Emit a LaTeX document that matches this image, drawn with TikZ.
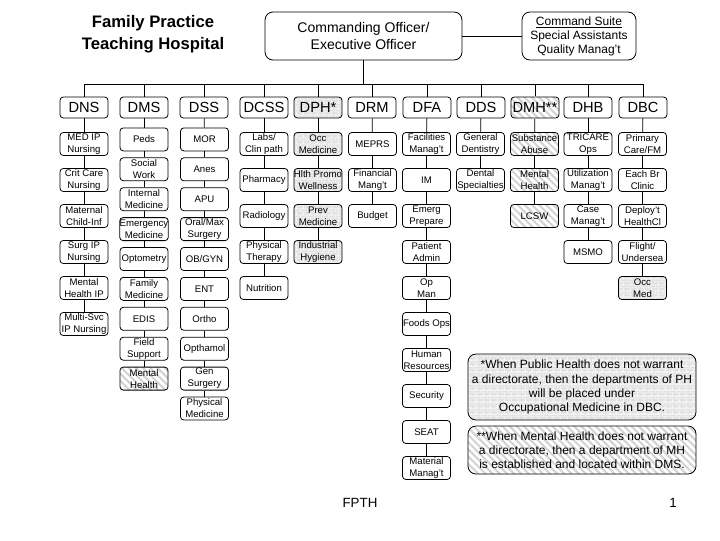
\documentclass[tikz,border=0pt]{standalone}
\usepackage{fontspec}
\setmainfont{Liberation Sans}
\usetikzlibrary{patterns,patterns.meta}
\definecolor{FpthBrick}{HTML}{E2E2E2}
\definecolor{FpthStripe}{HTML}{D2D2D2}
\tikzdeclarepattern{name=fpthbricks,type=uncolored,
  bounding box={(0pt,0pt) and (5pt,4.4pt)},tile size={(5pt,4.4pt)},
  code={\draw[line width=0.6pt] (0pt,0pt) -- (5pt,0pt) (0pt,2.2pt) -- (5pt,2.2pt)
    (0pt,0pt) -- (0pt,2.2pt) (2.5pt,2.2pt) -- (2.5pt,4.4pt);}}

\begin{document}
\begin{tikzpicture}[x=0.75pt,y=-0.75pt,
    unitbox/.style={draw,line width=0.6pt,rounded corners=2.5pt,fill=white,
      inner sep=0pt,minimum width=36pt,minimum height=17.25pt,align=center,
      font=\fontsize{7.2}{9}\selectfont},
    dirbox/.style={unitbox,minimum height=15.75pt,font=\fontsize{11}{12}\selectfont},
    bigbox/.style={unitbox,rounded corners=6pt},
    brickfill/.style={preaction={fill=FpthBrick},pattern=fpthbricks,pattern color=white},
    stripefill/.style={preaction={fill=white},
      pattern={Lines[angle=-45,distance=3.8pt,line width=1.5pt]},pattern color=FpthStripe},
    link/.style={line width=0.6pt}]

  \useasboundingbox (0,0) rectangle (720,540);

  \node[align=center,font=\bfseries\fontsize{12.5}{16.5}\selectfont]
    (title) at (153,34) {Family Practice\\Teaching Hospital};

  \node[bigbox,minimum width=147.75pt,minimum height=36pt,
    font=\fontsize{10.5}{12.75}\selectfont]
    (co) at (363.5,36) {Commanding Officer/\\Executive Officer};

  \node[bigbox,minimum width=85.5pt,minimum height=36pt,
    font=\fontsize{9}{10}\selectfont]
    (suite) at (579,36) {\underline{Command Suite}\\[1pt]Special Assistants\\Quality Manag't};

  \draw[link] (co) -- (suite);

  \coordinate (busL) at (84,84);
  \coordinate (busR) at (643,84);
  \draw[link] (co) -- (co |- busL);
  \draw[link] (busL) -- (busR);

  \node[dirbox,alias=dns0] (dns) at (84,107.5) {DNS};
  \node[dirbox,alias=dms0] (dms) at (144,107.5) {DMS};
  \node[dirbox,alias=dss0] (dss) at (204,107.5) {DSS};
  \node[dirbox,alias=dcss0] (dcss) at (264,107.5) {DCSS};
  \node[dirbox,brickfill,alias=dph0] (dph) at (318,107.5) {DPH*};
  \node[dirbox,alias=drm0] (drm) at (372,107.5) {DRM};
  \node[dirbox,alias=dfa0] (dfa) at (427,107.5) {DFA};
  \node[dirbox,alias=dds0] (dds) at (481,107.5) {DDS};
  \node[dirbox,stripefill,alias=dmh0] (dmh) at (535,107.5) {DMH**};
  \node[dirbox,alias=dhb0] (dhb) at (588,107.5) {DHB};
  \node[dirbox,alias=dbc0] (dbc) at (643,107.5) {DBC};

  \foreach \dir in {dns,dms,dss,dcss,dph,drm,dfa,dds,dmh,dhb,dbc}
    \draw[link] (\dir |- busL) -- (\dir);

  \foreach \txt [count=\i,remember=\i as \j (initially 0)] in
    {{MED IP\\Nursing},{Crit Care\\Nursing},{Maternal\\Child-Inf},
     {Surg IP\\Nursing},{Mental\\Health IP},{Multi-Svc\\IP Nursing}}{
    \node[unitbox] (dns\i) at (84,108+36*\i) {\txt};
    \draw[link] (dns\j) -- (dns\i);
  }

  \foreach \txt [count=\i,remember=\i as \j (initially 0)] in
    {Peds,{Social\\Work},{Internal\\Medicine},{Emergency\\Medicine},Optometry,
     {Family\\Medicine},EDIS,{Field\\Support}}{
    \node[unitbox] (dms\i) at (144,109.5+29.9*\i) {\txt};
    \draw[link] (dms\j) -- (dms\i);
  }
  \node[unitbox,stripefill] (dms9) at (144,378.6) {Mental\\Health};
  \draw[link] (dms8) -- (dms9);

  \foreach \txt [count=\i,remember=\i as \j (initially 0)] in
    {MOR,Anes,APU,{Oral/Max\\Surgery},OB/GYN,ENT,Ortho,Opthamol,
     {Gen\\Surgery},{Physical\\Medicine}}{
    \node[unitbox] (dss\i) at (204.5,109.5+29.9*\i) {\txt};
    \draw[link] (dss\j) -- (dss\i);
  }

  \foreach \txt [count=\i,remember=\i as \j (initially 0)] in
    {{Labs/\\Clin path},Pharmacy,Radiology,{Physical\\Therapy},Nutrition}{
    \node[unitbox] (dcss\i) at (264,108+36*\i) {\txt};
    \draw[link] (dcss\j) -- (dcss\i);
  }

  \foreach \txt [count=\i,remember=\i as \j (initially 0)] in
    {{Occ\\Medicine},{Hlth Promo\\Wellness},{Prev\\Medicine},{Industrial\\Hygiene}}{
    \node[unitbox,brickfill] (dph\i) at (318,108+36*\i) {\txt};
    \draw[link] (dph\j) -- (dph\i);
  }

  \foreach \txt [count=\i,remember=\i as \j (initially 0)] in
    {MEPRS,{Financial\\Mang't},Budget}{
    \node[unitbox] (drm\i) at (372.5,108+36*\i) {\txt};
    \draw[link] (drm\j) -- (drm\i);
  }

  \foreach \txt [count=\i,remember=\i as \j (initially 0)] in
    {{Facilities\\Manag't},IM,{Emerg\\Prepare},{Patient\\Admin},{Op\\Man},
     Foods Ops,{Human\\Resources},Security,SEAT,{Material\\Manag't}}{
    \node[unitbox] (dfa\i) at (426.5,108+36*\i) {\txt};
    \draw[link] (dfa\j) -- (dfa\i);
  }

  \foreach \txt [count=\i,remember=\i as \j (initially 0)] in
    {{General\\Dentistry},{Dental\\Specialties}}{
    \node[unitbox] (dds\i) at (480.5,108+36*\i) {\txt};
    \draw[link] (dds\j) -- (dds\i);
  }

  \foreach \txt [count=\i,remember=\i as \j (initially 0)] in
    {{Substance\\Abuse},{Mental\\Health},LCSW}{
    \node[unitbox,stripefill] (dmh\i) at (534.5,108+36*\i) {\txt};
    \draw[link] (dmh\j) -- (dmh\i);
  }

  \foreach \txt [count=\i,remember=\i as \j (initially 0)] in
    {{TRICARE\\Ops},{Utilization\\Manag't},{Case\\Manag't},MSMO}{
    \node[unitbox] (dhb\i) at (588,108+36*\i) {\txt};
    \draw[link] (dhb\j) -- (dhb\i);
  }

  \foreach \txt [count=\i,remember=\i as \j (initially 0)] in
    {{Primary\\Care/FM},{Each Br\\Clinic},{Deploy't\\HealthCl},{Flight/\\Undersea}}{
    \node[unitbox] (dbc\i) at (642.5,108+36*\i) {\txt};
    \draw[link] (dbc\j) -- (dbc\i);
  }
  \node[unitbox,brickfill] (dbc5) at (642.5,288) {Occ\\Med};
  \draw[link] (dbc4) -- (dbc5);

  \node[bigbox,brickfill,minimum width=171pt,minimum height=49.5pt,
    font=\fontsize{9}{10.6}\selectfont]
    (noteph) at (582,387) {*When Public Health does not warrant\\a directorate, then the departments of PH\\will be placed under\\Occupational Medicine in DBC.};

  \node[bigbox,stripefill,minimum width=171pt,minimum height=36pt,
    font=\fontsize{9}{10.6}\selectfont]
    (notemh) at (582,450) {**When Mental Health does not warrant\\a directorate, then a department of MH\\is established and located within DMS.};

  \node[font=\fontsize{10}{12}\selectfont] (footer) at (360,503) {FPTH};
  \node[font=\fontsize{10}{12}\selectfont] (page) at (673,503) {1};

\end{tikzpicture}
\end{document}
